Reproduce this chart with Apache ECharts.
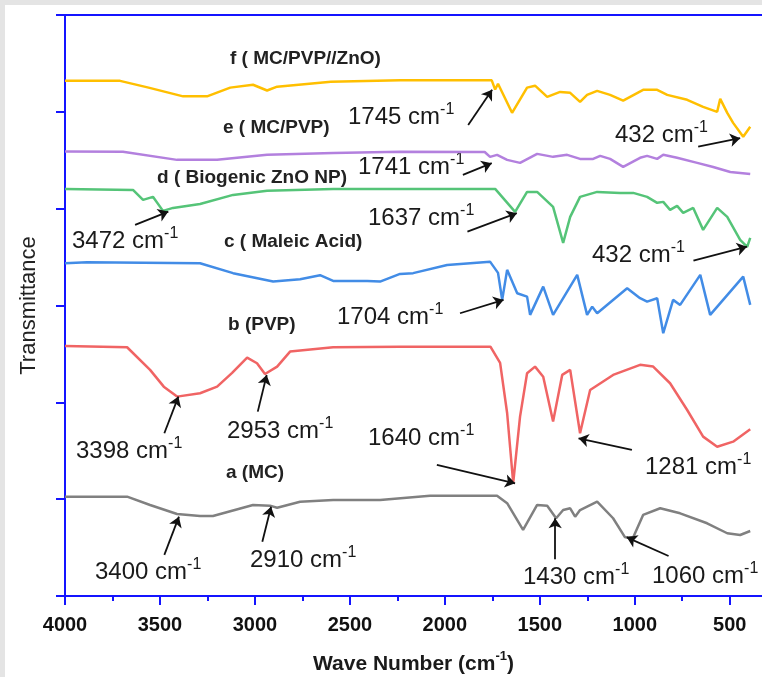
<!DOCTYPE html>
<html>
<head>
<meta charset="utf-8">
<script src="https://cdn.jsdelivr.net/npm/echarts@6/dist/echarts.min.js"></script>
<style>
  html, body { margin: 0; padding: 0; background: #e4e4e4; }
  #ftir { position: absolute; left: 5px; top: 5px; width: 757px; height: 672px; background: #fff; }
</style>
</head>
<body>
<div id="ftir"></div>
<script>
// wave numbers (cm-1) and offset transmittance
var fWn = [4000, 3710, 3560, 3378, 3252, 3130, 3010, 2936, 2883, 2600, 2235, 1753, 1735, 1720, 1646, 1567, 1525, 1461, 1393, 1340, 1288, 1251, 1198, 1130, 1061, 956, 882, 829, 724, 640, 566, 550, 513, 482, 429, 392];
var fT  = [532, 532, 525, 516, 516, 525, 528, 522, 526, 531, 532.5, 532.5, 523, 529, 499, 525, 527, 515.5, 520.6, 519.6, 510.3, 517.5, 521.7, 517.5, 511.6, 522.7, 522.7, 517.5, 512.4, 505.1, 500, 513.4, 498.9, 488.6, 474.2, 484.5];

var eWn = [4000, 3695, 3410, 3199, 2936, 2588, 2236, 1790, 1762, 1725, 1672, 1604, 1514, 1430, 1356, 1288, 1219, 1182, 1130, 1061, 972, 935, 882, 850, 777, 671, 587, 497, 392];
var eT  = [459, 458.7, 450.4, 450.4, 455.6, 457.6, 458.7, 458.5, 453.5, 455.6, 450.4, 447.3, 456.6, 453.5, 455.6, 451.4, 451.4, 454.5, 451.4, 443.1, 452.5, 454.5, 451.4, 455.6, 452.5, 447.3, 443.1, 437.9, 435.9];

var dWn = [4000, 3642, 3589, 3537, 3484, 3431, 3289, 3115, 2936, 2588, 1735, 1630, 1567, 1514, 1430, 1377, 1340, 1288, 1198, 1077, 1008, 935, 882, 850, 814, 777, 745, 692, 640, 566, 513, 445, 408, 392];
var dT  = [420.4, 419.4, 409.1, 412.2, 397.7, 400.8, 404.9, 414.2, 418.4, 420.4, 420.4, 396.7, 417.3, 417.3, 401.8, 364.6, 391.5, 412.2, 417.3, 416.3, 416.3, 412.2, 406.0, 407.0, 398.7, 402.9, 395.6, 400.8, 378.1, 400.8, 391.5, 367.7, 360.5, 369.8];

var cWn = [4000, 3884, 3289, 3115, 2904, 2762, 2657, 2588, 2409, 2341, 2236, 2167, 1988, 1762, 1720, 1698, 1672, 1619, 1567, 1551, 1482, 1430, 1303, 1251, 1224, 1198, 1040, 972, 935, 882, 850, 798, 761, 655, 603, 429, 392];
var cT  = [343.7, 344.7, 343.7, 333.4, 324.7, 327.2, 331.3, 325.4, 325.4, 324.7, 332.6, 333.4, 341.9, 345.3, 333.7, 305.8, 336.8, 312.7, 309.2, 290.3, 319.5, 290.3, 331.6, 290.3, 298.8, 292.0, 317.9, 307.5, 304.0, 307.5, 271.4, 305.8, 300.6, 331.6, 290.3, 329.8, 300.6];

var bWn = [4000, 3673, 3552, 3480, 3410, 3289, 3199, 3120, 3041, 2989, 2947, 2883, 2815, 2588, 2236, 1760, 1709, 1672, 1640, 1604, 1567, 1525, 1482, 1430, 1382, 1340, 1288, 1235, 1114, 972, 903, 814, 724, 640, 566, 482, 392];
var bT  = [258.3, 256.9, 233.5, 216.2, 205.9, 209.4, 216.2, 230.4, 246.2, 240.4, 229.3, 236.9, 252.4, 256.9, 257.5, 257.5, 240.7, 189.0, 116.7, 185.2, 230.0, 236.9, 226.5, 180.1, 228.3, 233.5, 168.1, 212.8, 228.3, 238.7, 236.9, 219.7, 192.1, 164.6, 154.2, 159.4, 172.2];

var aWn = [4000, 3673, 3552, 3410, 3289, 3221, 3010, 2921, 2883, 2762, 2588, 2341, 2078, 1725, 1672, 1588, 1514, 1461, 1414, 1377, 1340, 1314, 1288, 1198, 1114, 1051, 1008, 956, 866, 761, 619, 513, 445, 392];
var aT  = [102.6, 102.6, 94.0, 84.7, 82.6, 82.6, 94.0, 93.3, 91.2, 97.4, 99.2, 99.2, 103.6, 103.6, 95.8, 68.2, 94.0, 93.3, 80.3, 88.8, 90.6, 81.9, 88.8, 97.4, 80.3, 60.6, 60.6, 83.7, 90.6, 85.4, 75.1, 64.8, 63.0, 67.1];

var majorTicks = [4000, 3500, 3000, 2500, 2000, 1500, 1000, 500];
var minorTicks = [3750, 3250, 2750, 2250, 1750, 1250, 750];

// arrows: [from wn, from T, to wn, to T]
var arrows = [
  [1877, 486.5, 1751, 522.7],
  [666, 464.1, 445, 472.8],
  [1905, 434.9, 1753, 447.0],
  [3631, 383.2, 3456, 397.0],
  [1881, 376.3, 1621, 395.3],
  [691, 346.4, 409, 360.8],
  [1920, 292.0, 1691, 305.8],
  [3477, 168.1, 3403, 205.9],
  [2985, 190.4, 2938, 228.3],
  [2042, 135.3, 1630, 116.4],
  [1015, 150.8, 1296, 162.9],
  [3477, 42.4, 3400, 81.9],
  [2961, 56.1, 2915, 92.2],
  [1419, 37.9, 1419, 80.3],
  [822, 41.3, 1042, 60.6]
];

var peakLabels = ['1745', '432', '1741', '3472', '1637', '432', '1704', '3398', '2953', '1640', '1281', '3400', '2910', '1430', '1060'];
var peakPos = [[343, 112], [610, 130], [353, 162], [67, 236], [363, 213], [587, 250], [332, 312], [71, 446], [222, 426], [363, 433], [640, 462], [90, 567], [245, 555], [518, 572], [647, 571]];

var curveNames = ['f ( MC/PVP//ZnO)', 'e ( MC/PVP)', 'd ( Biogenic ZnO NP)', 'c ( Maleic Acid)', 'b (PVP)', 'a (MC)'];
var curveNamePos = [[225, 54], [218, 123], [152, 173], [219, 237], [223, 320], [221, 468]];

var FONT = '"Liberation Sans", Arial, sans-serif';
var AXIS_BLUE = '#1414ff';

function pairs(xs, ys) {
  return xs.map(function (x, i) { return [x, ys[i]]; });
}

var curves = [
  { wn: fWn, t: fT, color: '#FFBF00' },
  { wn: eWn, t: eT, color: '#B380DE' },
  { wn: dWn, t: dT, color: '#55C478' },
  { wn: cWn, t: cT, color: '#428CE6' },
  { wn: bWn, t: bT, color: '#F06464' },
  { wn: aWn, t: aT, color: '#808080' }
];

var ftirChart = echarts.init(document.getElementById('ftir'));

var graphics = [];
peakLabels.forEach(function (p, i) {
  graphics.push({
    type: 'text', x: peakPos[i][0], y: peakPos[i][1], silent: true,
    style: {
      text: p + ' cm{s|-1}',
      fill: '#1a1a1a',
      font: '24px ' + FONT,
      lineHeight: 31,
      align: 'left',
      verticalAlign: 'middle',
      rich: { s: { fontSize: 16, fontFamily: FONT, lineHeight: 15, verticalAlign: 'top', fill: '#1a1a1a' } }
    }
  });
});
curveNames.forEach(function (n, i) {
  graphics.push({
    type: 'text', x: curveNamePos[i][0], y: curveNamePos[i][1], silent: true,
    style: { text: n, fill: '#222', font: 'bold 19px ' + FONT, align: 'left', verticalAlign: 'middle' }
  });
});

var option = {
  animation: false,
  grid: { left: 60, top: 10, right: 0, bottom: 81, outerBoundsMode: 'none' },
  xAxis: [
    {
      type: 'value', min: 330, max: 4000, inverse: true, position: 'bottom',
      name: 'Wave Number (cm{s|-1})', nameLocation: 'middle', nameGap: 54,
      nameTextStyle: {
        fontFamily: FONT, fontSize: 21, fontWeight: 'bold', color: '#1a1a1a', lineHeight: 28,
        rich: { s: { fontFamily: FONT, fontSize: 13, fontWeight: 'bold', color: '#1a1a1a', lineHeight: 12, verticalAlign: 'top' } }
      },
      axisLine: { show: true, lineStyle: { color: AXIS_BLUE, width: 2 } },
      axisTick: { show: true, length: 9, customValues: majorTicks, lineStyle: { color: AXIS_BLUE, width: 2 } },
      axisLabel: {
        customValues: majorTicks, margin: 19, fontFamily: FONT, fontSize: 20, fontWeight: 'bold', color: '#111',
        formatter: function (v) { return String(v); }
      },
      splitLine: { show: false }
    },
    {
      type: 'value', min: 330, max: 4000, inverse: true, position: 'bottom',
      axisLine: { show: false },
      axisTick: { show: true, length: 5, customValues: minorTicks, lineStyle: { color: AXIS_BLUE, width: 2 } },
      axisLabel: { show: false },
      splitLine: { show: false }
    },
    {
      type: 'value', min: 330, max: 4000, inverse: true, position: 'top',
      axisLine: { show: true, lineStyle: { color: AXIS_BLUE, width: 2 } },
      axisTick: { show: false },
      axisLabel: { show: false },
      splitLine: { show: false }
    }
  ],
  yAxis: {
    type: 'value', min: 0, max: 600, interval: 100,
    name: 'Transmittance', nameLocation: 'middle', nameGap: 25,
    nameTextStyle: { fontFamily: FONT, fontSize: 22, color: '#222' },
    axisLine: { show: true, lineStyle: { color: AXIS_BLUE, width: 2 } },
    axisTick: { show: true, length: 9, lineStyle: { color: AXIS_BLUE, width: 2 } },
    axisLabel: { show: false },
    splitLine: { show: false }
  },
  series: curves.map(function (c) {
    return {
      type: 'line',
      data: pairs(c.wn, c.t),
      showSymbol: false,
      symbol: 'none',
      lineStyle: { color: c.color, width: 2.5 },
      silent: true
    };
  }).concat([{
    type: 'line',
    data: [],
    silent: true,
    markLine: {
      silent: true,
      symbol: ['none', 'arrow'],
      symbolSize: 10,
      label: { show: false },
      lineStyle: { color: '#111', width: 1.8, type: 'solid' },
      emphasis: { disabled: true },
      data: arrows.map(function (a) {
        return [{ coord: [a[0], a[1]] }, { coord: [a[2], a[3]] }];
      })
    }
  }]),
  graphic: graphics
};

ftirChart.setOption(option);
</script>
</body>
</html>
